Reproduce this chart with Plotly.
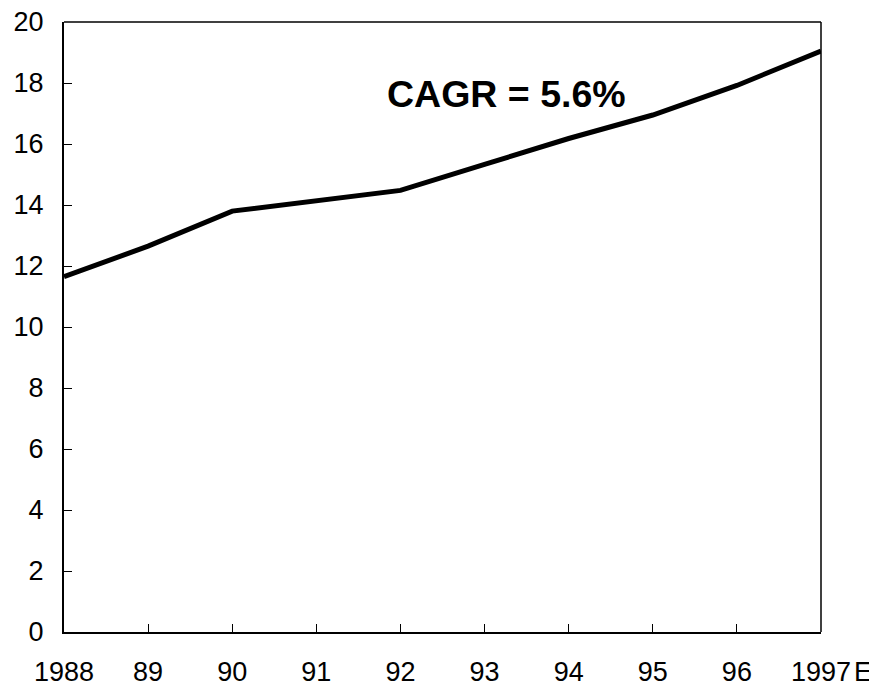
import plotly.graph_objects as go

years = [1988, 1989, 1990, 1991, 1992, 1993, 1994, 1995, 1996, 1997]
tick_labels = ["1988", "89", "90", "91", "92", "93", "94", "95", "96", "1997"]
values = [11.65, 12.65, 13.8, 14.12, 14.48, 15.33, 16.18, 16.95, 17.92, 19.05]
y_ticks = [0, 2, 4, 6, 8, 10, 12, 14, 16, 18, 20]

fig = go.Figure()
fig.add_trace(go.Scatter(x=years, y=values, mode="lines",
                         line=dict(color="black", width=5), showlegend=False,
                         cliponaxis=False))

fig.update_layout(
    width=869, height=681,
    margin=dict(l=56, r=56, t=14, b=57, autoexpand=False),
    plot_bgcolor="white", paper_bgcolor="white",
    font=dict(family="Liberation Sans, Arial, sans-serif", size=27, color="black"),
    xaxis=dict(range=[1988, 1997], tickvals=years, ticktext=tick_labels,
               showgrid=False, zeroline=False, showline=True, linecolor="black",
               linewidth=2, ticks="inside", ticklen=8, tickwidth=1, tickcolor="black",
               ticklabelstandoff=15, tickfont=dict(size=27),
               ticklabeloverflow="allow", automargin=False),
    yaxis=dict(range=[0, 20], tickvals=y_ticks, showgrid=False, zeroline=False,
               showline=True, linecolor="black", linewidth=2, ticks="inside",
               ticklen=8, tickwidth=1, tickcolor="black", ticklabelstandoff=13,
               tickfont=dict(size=27), ticklabeloverflow="allow", automargin=False),
    shapes=[
        dict(type="line", xref="paper", yref="paper", x0=0, x1=1, y0=1, y1=1,
             line=dict(color="black", width=1.5)),
        dict(type="line", xref="paper", yref="paper", x0=1, x1=1, y0=0, y1=1,
             line=dict(color="black", width=1.5)),
    ],
    annotations=[
        dict(x=1.0555, y=-0.066, xref="paper", yref="paper", text="E",
             xanchor="center", yanchor="middle",
             showarrow=False, font=dict(size=27)),
        dict(x=1993.26, y=17.65, xref="x", yref="y", text="<b>CAGR = 5.6%</b>",
             showarrow=False, font=dict(size=37.5)),
    ],
)

fig.write_html("out.html")
